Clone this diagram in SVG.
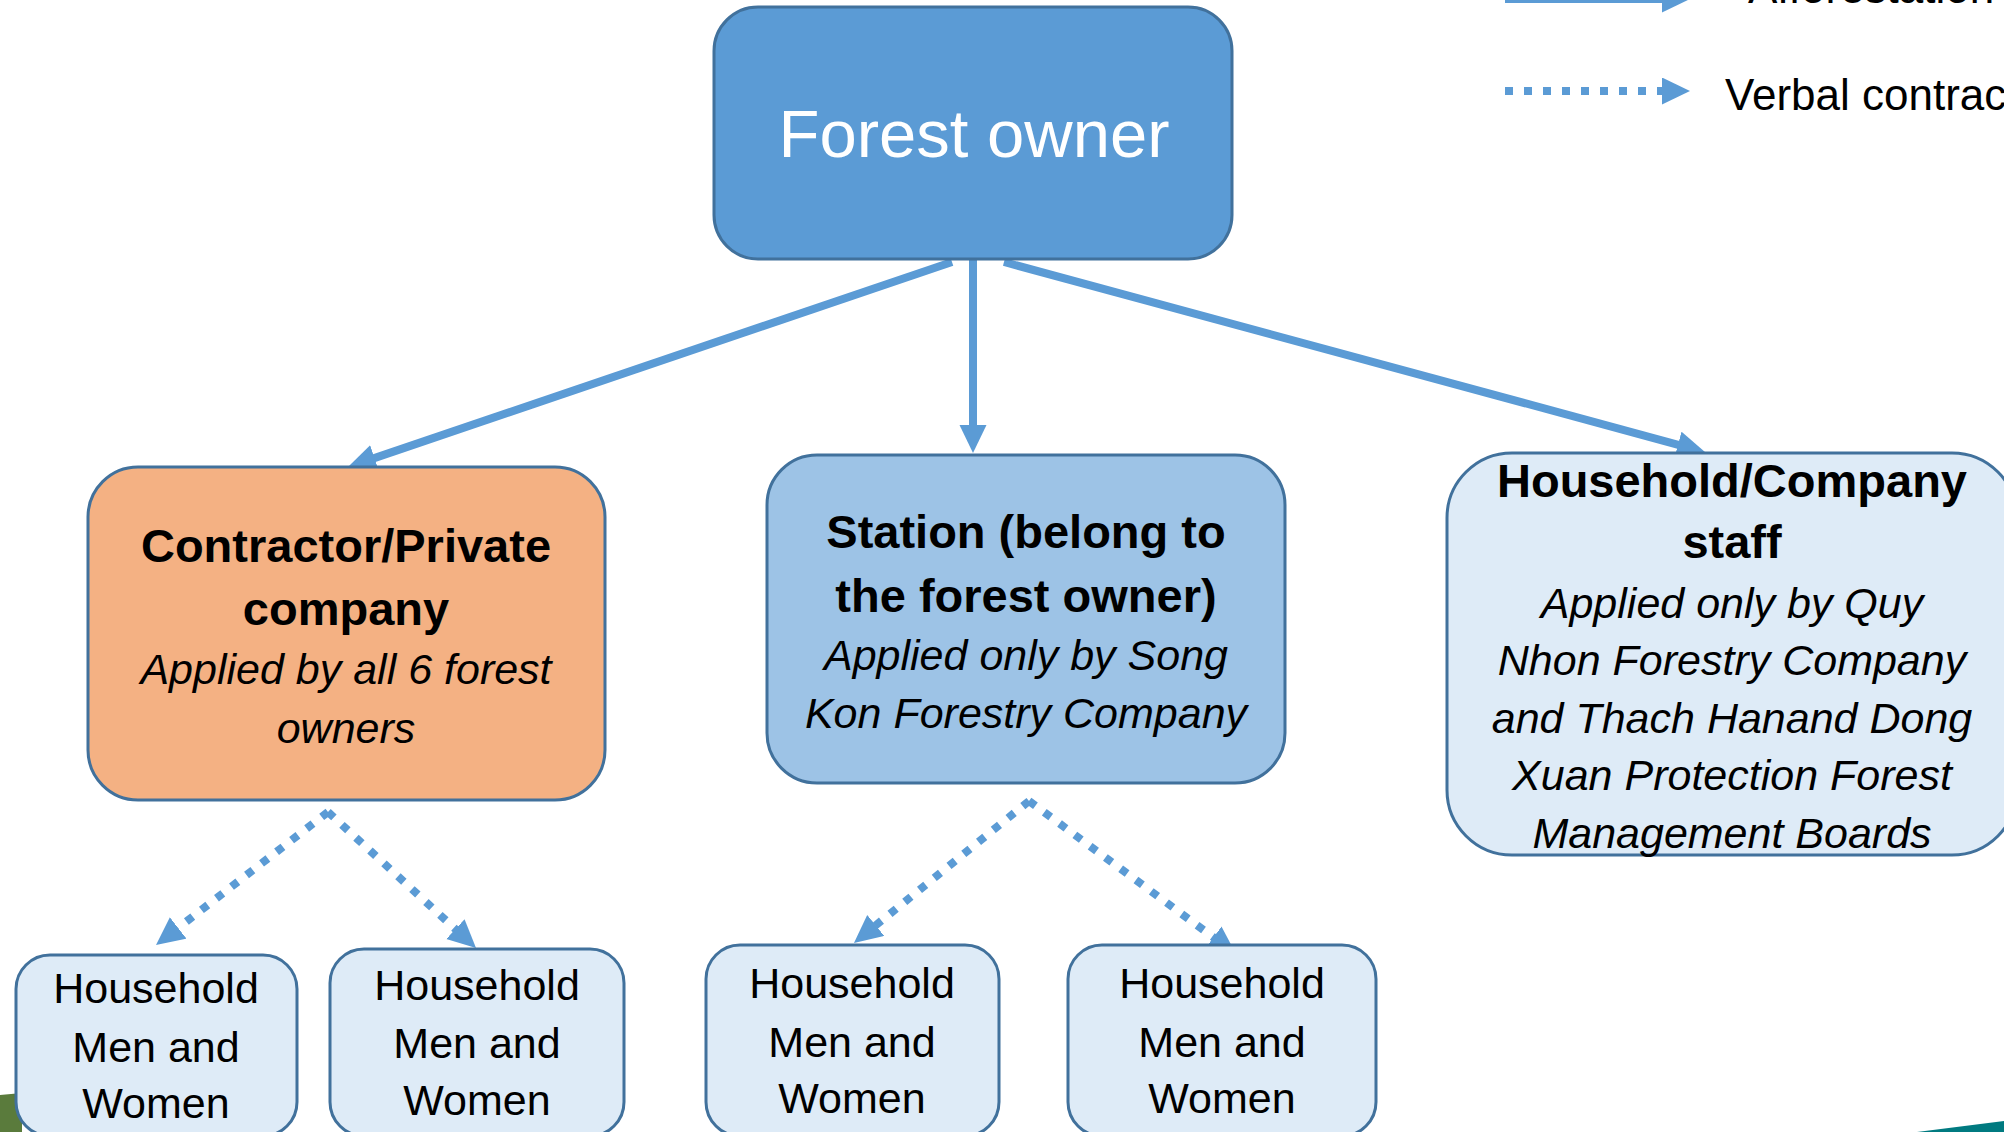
<svg xmlns="http://www.w3.org/2000/svg" width="2004" height="1132" viewBox="0 0 2004 1132">
  <style>
    .box { stroke: #41719C; stroke-width: 3; }
    .owner { fill: #5B9BD5; }
    .contractor { fill: #F4B183; }
    .station { fill: #9DC3E6; }
    .light { fill: #DEEBF7; }
    .t { font-family: "Liberation Sans", Arial, sans-serif; text-anchor: middle; fill: #000; }
    .b { font-weight: bold; font-size: 47px; }
    .i { font-style: italic; font-size: 43px; }
    .hh { font-size: 43px; }
    .lg { text-anchor: start; font-size: 44px; }
    .solid { stroke: #5B9BD5; stroke-width: 8; fill: none; marker-end: url(#arr); }
    .dot { stroke: #5B9BD5; stroke-width: 8; fill: none; stroke-dasharray: 8 11; marker-end: url(#arr); }
  </style>
  <defs>
    <marker id="arr" markerUnits="userSpaceOnUse" markerWidth="30" markerHeight="30" refX="8" refY="13.5" orient="auto">
      <path d="M0,0 L28,13.5 L0,27 z" fill="#5B9BD5"/>
    </marker>
  </defs>
  <rect width="2004" height="1132" fill="#FFFFFF"/>

  <g id="decor">
    <polygon points="0,1095 22,1093 22,1132 0,1132" fill="#5A7B3C"/>
    <polygon points="1917,1132 2004,1121 2004,1132" fill="#007A80"/>
  </g>

  <g id="legend">
    <line x1="1505" y1="-1" x2="1670" y2="-1" class="solid"/>
    <text x="1748" y="3" class="t lg">Afforestation contract</text>
    <line x1="1505" y1="91" x2="1670" y2="91" class="dot"/>
    <text x="1725" y="110" class="t lg">Verbal contract</text>
  </g>

  <g id="connectors">
    <line x1="952" y1="262" x2="366.9" y2="460.6" class="solid"/>
    <line x1="973" y1="259" x2="973" y2="433" class="solid"/>
    <line x1="1004" y1="262" x2="1685.7" y2="446.8" class="solid"/>
    <line x1="328" y1="812" x2="171.8" y2="932.8" class="dot"/>
    <line x1="328" y1="812" x2="461.3" y2="934.5" class="dot"/>
    <line x1="1029" y1="801" x2="869.5" y2="930.4" class="dot"/>
    <line x1="1029" y1="801" x2="1219.9" y2="942.1" class="dot"/>
  </g>

  <g id="forest-owner">
    <rect x="714" y="7" width="518" height="252" rx="44" class="box owner"/>
    <text x="974" y="157" class="t" style="font-size:67px;fill:#FFFFFF">Forest owner</text>
  </g>

  <g id="contractor">
    <rect x="88" y="467" width="517" height="333" rx="50" class="box contractor"/>
    <text x="346" y="562" class="t b">Contractor/Private</text>
    <text x="346" y="625" class="t b">company</text>
    <text x="346" y="684" class="t i">Applied by all 6 forest</text>
    <text x="346" y="743" class="t i">owners</text>
  </g>

  <g id="station">
    <rect x="767" y="455" width="518" height="328" rx="50" class="box station"/>
    <text x="1026" y="548" class="t b">Station (belong to</text>
    <text x="1026" y="612" class="t b">the forest owner)</text>
    <text x="1026" y="670" class="t i">Applied only by Song</text>
    <text x="1026" y="728" class="t i">Kon Forestry Company</text>
  </g>

  <g id="staff">
    <rect x="1447" y="453" width="570" height="402" rx="65" class="box light"/>
    <text x="1732" y="497" class="t b">Household/Company</text>
    <text x="1732" y="558" class="t b">staff</text>
    <text x="1732" y="618" class="t i">Applied only by Quy</text>
    <text x="1732" y="675" class="t i">Nhon Forestry Company</text>
    <text x="1732" y="733" class="t i">and Thach Hanand Dong</text>
    <text x="1732" y="790" class="t i">Xuan Protection Forest</text>
    <text x="1732" y="848" class="t i">Management Boards</text>
  </g>

  <g id="household-1">
    <rect x="16" y="955" width="281" height="181" rx="34" class="box light"/>
    <text x="156" y="1003" class="t hh">Household</text>
    <text x="156" y="1062" class="t hh">Men and</text>
    <text x="156" y="1118" class="t hh">Women</text>
  </g>

  <g id="household-2">
    <rect x="330" y="949" width="294" height="187" rx="34" class="box light"/>
    <text x="477" y="1000" class="t hh">Household</text>
    <text x="477" y="1058" class="t hh">Men and</text>
    <text x="477" y="1115" class="t hh">Women</text>
  </g>

  <g id="household-3">
    <rect x="706" y="945" width="293" height="191" rx="34" class="box light"/>
    <text x="852" y="998" class="t hh">Household</text>
    <text x="852" y="1057" class="t hh">Men and</text>
    <text x="852" y="1113" class="t hh">Women</text>
  </g>

  <g id="household-4">
    <rect x="1068" y="945" width="308" height="191" rx="34" class="box light"/>
    <text x="1222" y="998" class="t hh">Household</text>
    <text x="1222" y="1057" class="t hh">Men and</text>
    <text x="1222" y="1113" class="t hh">Women</text>
  </g>
</svg>
